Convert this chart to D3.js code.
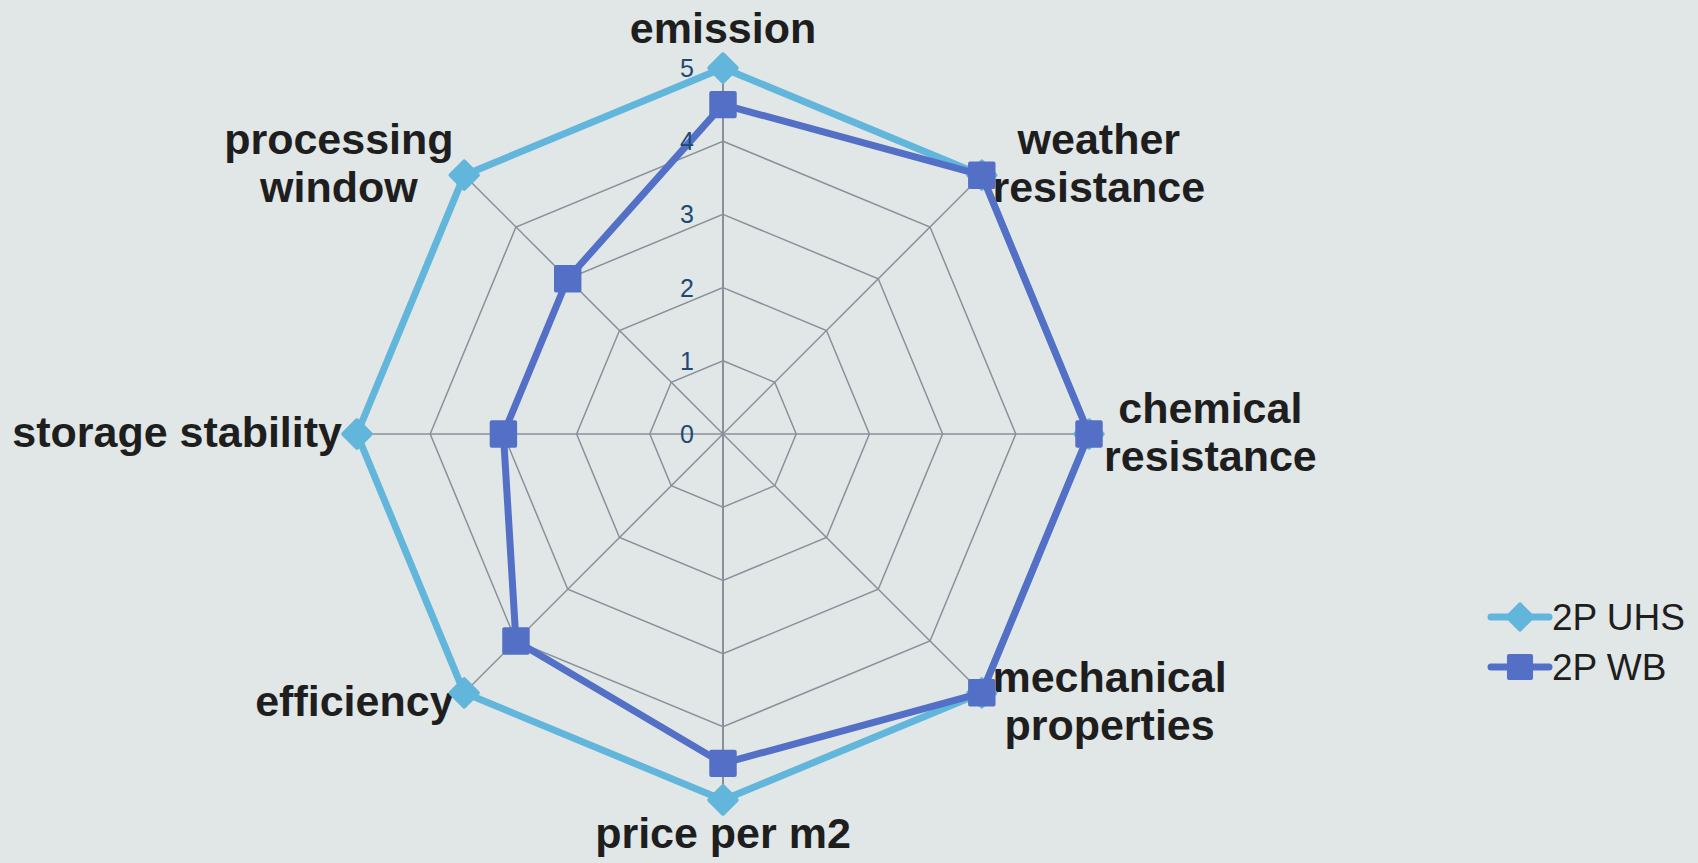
<!DOCTYPE html>
<meta charset="utf-8">
<head>
  <script src="https://cdn.jsdelivr.net/npm/d3@7"></script>
  <style>
    body { margin: 0; background: #e1e6e6; }
    svg { display: block; }
    .axis-name { font: bold 43px "Liberation Sans", Arial, sans-serif; fill: #1e1e1e; }
    .tick-label { font: 25px "Liberation Sans", Arial, sans-serif; fill: #1d4a72; }
    .legend text { font: 37px "Liberation Sans", Arial, sans-serif; fill: #1e1e1e; }
  </style>
</head>
<body>
<script>

// datos
var axes = ["emission", "weather\nresistance", "chemical\nresistance", "mechanical\nproperties",
            "price per m2", "efficiency", "storage stability", "processing\nwindow"];
var uhsValues = [5, 5, 5, 5, 5, 5, 5, 5];
var wbValues  = [4.5, 5, 5, 5, 4.5, 4, 3, 3];
var tickValues = [0, 1, 2, 3, 4, 5];
var seriesNames = ["2P UHS", "2P WB"];
var seriesColors = ["#62b6dc", "#5370c6"];

var W = 1698, H = 863;
var cx = 723, cy = 434, R = 366;

var svg = d3.select("body").append("svg")
  .attr("width", W).attr("height", H);

svg.append("rect").attr("width", W).attr("height", H).attr("fill", "#e1e6e6");

var rScale = d3.scaleLinear().domain([0, 5]).range([0, R]);
var angle = d3.scalePoint().domain(d3.range(axes.length + 1)).range([0, 2 * Math.PI]);

function pt(i, v) {
  var a = angle(i);
  return [cx + rScale(v) * Math.sin(a), cy - rScale(v) * Math.cos(a)];
}

var g = svg.append("g");

// poligonos de la grilla
tickValues.forEach(function(t) {
  if (t === 0) return;
  g.append("polygon")
    .attr("points", axes.map(function(d, i) { return pt(i, t).join(","); }).join(" "))
    .attr("fill", "none")
    .attr("stroke", "#8a909b")
    .attr("stroke-width", 1.5);
});

// radios
axes.forEach(function(d, i) {
  var p = pt(i, 5);
  g.append("line")
    .attr("x1", cx).attr("y1", cy)
    .attr("x2", p[0]).attr("y2", p[1])
    .attr("stroke", "#8a909b")
    .attr("stroke-width", i === 0 || i === 4 ? 2 : 1.5);
});

// nombres de ejes
axes.forEach(function(name, i) {
  var a = angle(i);
  var s = Math.sin(a), c = Math.cos(a);
  var p = pt(i, 5 + 15 / (R / 5));
  var lines = name.split("\n");
  var lh = 48;
  var t = g.append("text").attr("class", "axis-name").attr("text-anchor", "middle");
  var spans = lines.map(function(l) { return t.append("tspan").text(l); });
  var maxW = d3.max(spans, function(sp) { return sp.node().getComputedTextLength(); });
  var x;
  if (Math.abs(s) < 0.01) x = p[0];
  else if (s > 0) x = p[0] + maxW / 2;
  else x = p[0] - maxW / 2;
  var n = lines.length;
  spans.forEach(function(sp, k) {
    var y;
    if (Math.abs(s) < 0.01 && c > 0) y = p[1] - 10 - (n - 1 - k) * lh;
    else if (Math.abs(s) < 0.01 && c < 0) y = p[1] + 33 + k * lh;
    else y = p[1] + (k - (n - 1) / 2) * lh + 13;
    sp.attr("x", x).attr("y", y);
  });
});

// series
var line = d3.lineRadial()
  .angle(function(d, i) { return angle(i); })
  .radius(function(d) { return rScale(d); })
  .curve(d3.curveLinearClosed);

var symbols = [
  d3.symbol().type(d3.symbolDiamond2).size(480),
  d3.symbol().type(d3.symbolSquare2).size(700)
];

[uhsValues, wbValues].forEach(function(vals, si) {
  var sg = g.append("g");
  sg.append("path")
    .attr("transform", "translate(" + cx + "," + cy + ")")
    .attr("d", line(vals))
    .attr("fill", "none")
    .attr("stroke", seriesColors[si])
    .attr("stroke-width", 7)
    .attr("stroke-linejoin", "round");
  sg.selectAll("path.mark")
    .data(vals)
    .enter().append("path")
    .attr("class", "mark")
    .attr("transform", function(d, i) { return "translate(" + pt(i, d).join(",") + ")"; })
    .attr("d", symbols[si])
    .attr("fill", seriesColors[si])
    .attr("stroke", seriesColors[si])
    .attr("stroke-width", 4)
    .attr("stroke-linejoin", "round");
});

// etiquetas de escala (encima de las lineas)
g.selectAll(".tick-label")
  .data(tickValues)
  .enter().append("text")
  .attr("class", "tick-label")
  .attr("x", cx - 29)
  .attr("y", function(d) { return cy - rScale(d) + 9; })
  .attr("text-anchor", "end")
  .text(function(d) { return d; });

// leyenda
var legend = svg.append("g").attr("class", "legend");
seriesNames.forEach(function(name, i) {
  var y = 617 + i * 50;
  var lg = legend.append("g");
  lg.append("line")
    .attr("x1", 1491).attr("x2", 1549)
    .attr("y1", y).attr("y2", y)
    .attr("stroke", seriesColors[i])
    .attr("stroke-width", 7)
    .attr("stroke-linecap", "round");
  lg.append("path")
    .attr("transform", "translate(1520," + y + ")")
    .attr("d", i === 0 ? d3.symbol().type(d3.symbolDiamond2).size(400)() : d3.symbol().type(d3.symbolSquare2).size(620)())
    .attr("fill", seriesColors[i])
    .attr("stroke", seriesColors[i])
    .attr("stroke-width", 4)
    .attr("stroke-linejoin", "round");
  lg.append("text")
    .attr("x", 1552)
    .attr("y", y + 13)
    .text(name);
});

</script>
</body>
